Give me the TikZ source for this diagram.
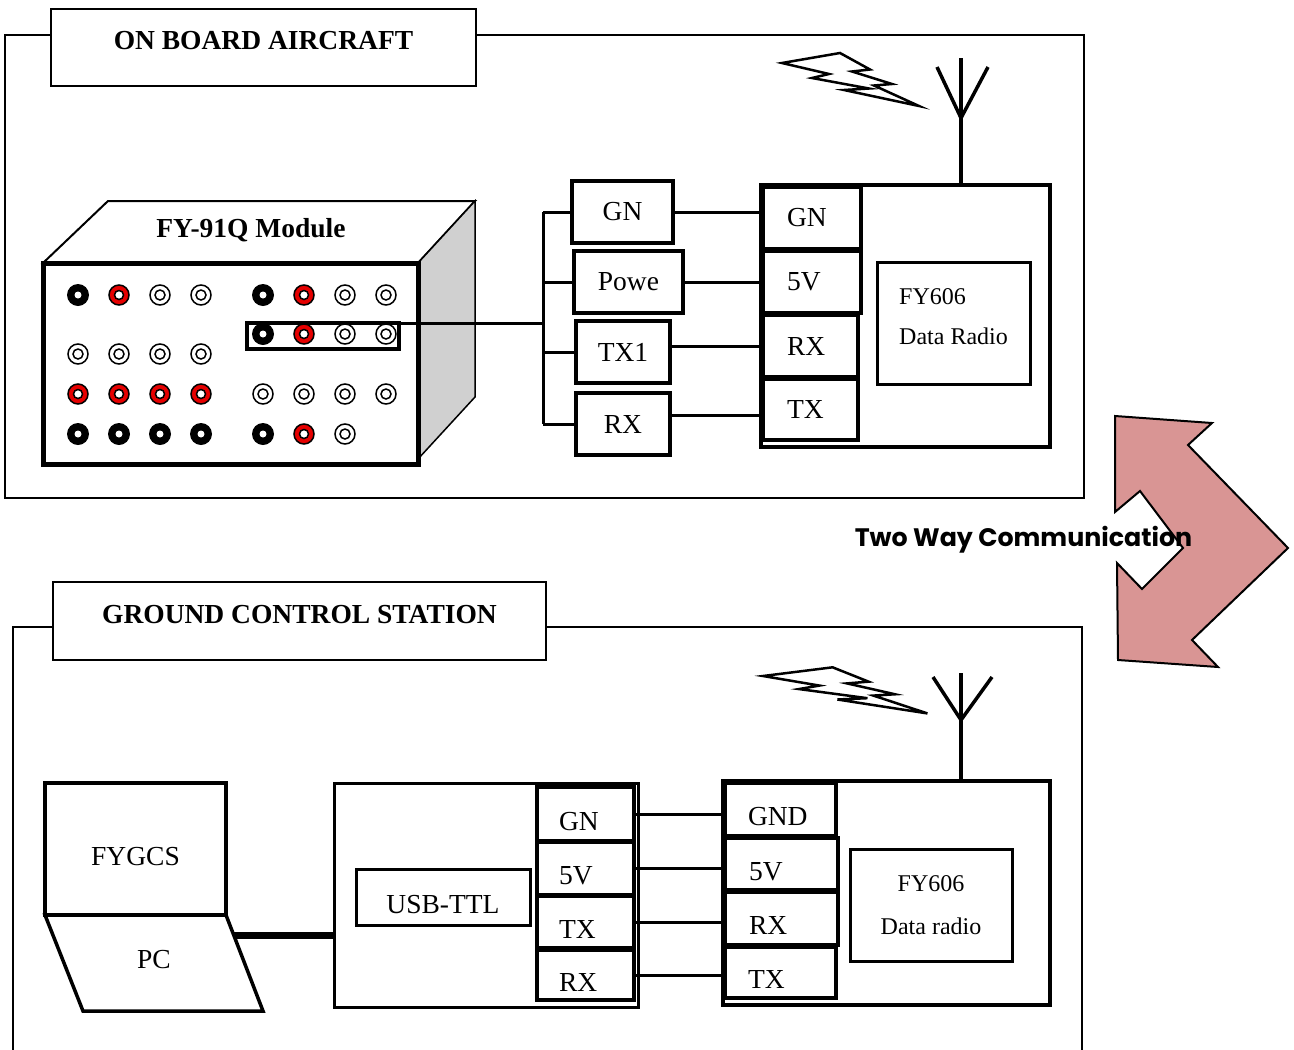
\documentclass[tikz,border=0pt]{standalone}
\usepackage{fontspec}
\setmainfont{Liberation Serif}
\newfontfamily\heavyfont{Poppins}
\usepackage{tikz}

\definecolor{jackred}{HTML}{E60000}
\definecolor{arrowpink}{HTML}{D99594}
\definecolor{sidegray}{HTML}{D0D0D0}

\tikzset{
  bolt/.pic={
    \draw[line width=2.5pt, line join=miter]
      (0,0) -- (58,-10) -- (88,6.5) -- (70,8.5) -- (110,21) -- (92,22.5) -- (137,43)
      -- (62,27) -- (87,25.5) -- (30,15) -- (47,11) -- cycle;
  }
}

\begin{document}
\begin{tikzpicture}[
    x=1pt, y=-1pt,
    every node/.style={font=\fontsize{27.5}{33}\selectfont, outer sep=0pt},
    boxsize/.style 2 args={minimum width=#1pt, minimum height=#2pt},
    frame/.style={draw, line width=2pt},
    titlebox/.style={draw, fill=white, line width=1.2pt, inner sep=0pt,
        font=\fontsize{27.5}{33}\selectfont\bfseries, text height=18pt, text depth=14pt},
    wirebox/.style={draw, line width=3.5pt, inner sep=0pt},
    pinbox/.style={draw, fill=white, line width=4pt, inner sep=0pt, align=left, text width=#1},
    pinbox/.default=50pt,
    lowtext/.style={text height=32pt, text depth=0pt},
    wire/.style={line width=3pt},
    antenna/.style={line width=3.5pt}
]
    \useasboundingbox (0,0) rectangle (1294,1050);

    % ---- on board aircraft ----
    \draw[frame] (5,35) rectangle (1084,498);
    \node[titlebox, boxsize={425}{77}] (aircraft) at (263.5,47.5) {ON BOARD AIRCRAFT};

    \draw[line width=2pt, fill=white] (43,263) -- (108,201) -- (475,201) -- (418,263) -- cycle;
    \draw[line width=1.5pt, fill=sidegray] (418,263) -- (475,201) -- (475,397) -- (418,459) -- cycle;
    \node[draw, fill=white, line width=5pt, boxsize={375}{201}] (fy91) at (230.5,363.5) {};
    \node[font=\fontsize{27.5}{33}\selectfont\bfseries] (fy91name) at (251,230) {FY-91Q Module};

    \foreach \x/\y in {78/295,263/295,263/334,78/434,119/434,160/434,201/434,263/434} {
        \fill (\x,\y) circle[radius=11pt];
        \fill[white] (\x,\y) circle[radius=3.5pt];
    }
    \foreach \x/\y in {119/295,304/295,304/334,78/394,119/394,160/394,201/394,304/434} {
        \draw[line width=1.5pt, fill=jackred] (\x,\y) circle[radius=10pt];
        \draw[line width=1.5pt, fill=white] (\x,\y) circle[radius=4.5pt];
    }
    \foreach \x/\y in {160/295,201/295,345/295,386/295,345/334,386/334,78/354,119/354,
                       160/354,201/354,263/394,304/394,345/394,386/394,345/434} {
        \draw[line width=1.5pt] (\x,\y) circle[radius=10pt] (\x,\y) circle[radius=5pt];
    }
    \node[draw, line width=4pt, boxsize={152}{26}] (sel) at (323,336) {};

    \coordinate (busT) at (543,212);
    \coordinate (busB) at (543,424);
    \draw[wire] (busT) -- (busB);
    \draw[wire] (sel.north east) -- (sel.north east -| busT);

    \node[wirebox, boxsize={101}{62}] (gn1) at (622.5,212) {GN};
    \node[wirebox, boxsize={109}{62}] (pw1) at (628.5,282) {Powe};
    \node[wirebox, boxsize={94}{62}] (tx1) at (623,352) {TX1};
    \node[wirebox, boxsize={94}{62}] (rx1) at (623,424) {RX};
    \foreach \n in {gn1,pw1,tx1,rx1}
        \draw[wire] (\n.west) -- (\n.west -| busT);

    \node[draw, line width=3.5pt, boxsize={289}{262}] (radio1) at (905.5,316) {};
    \node[pinbox, boxsize={98}{62}] (gn1p) at (812,218) {GN};
    \node[pinbox, boxsize={98}{62}] (v1p) at (812,282) {5V};
    \node[pinbox=47pt, boxsize={95}{62}] (rx1p) at (810.5,346) {RX};
    \node[pinbox=47pt, boxsize={95}{61}] (tx1p) at (810.5,409.5) {TX};
    \node[draw, line width=3pt, boxsize={153}{122}, align=left, text depth=12pt,
          font=\fontsize{24}{40}\selectfont] (fy606a) at (953.5,323) {FY606\\Data Radio};

    \draw[wire] (gn1.east) -- (gn1.east -| gn1p.west);
    \draw[wire] (pw1.east) -- (pw1.east -| v1p.west);
    \draw[wire] ([yshift=6pt]tx1.east) -- ([yshift=6pt]tx1.east -| rx1p.west);
    \draw[wire] ([yshift=9pt]rx1.east) -- ([yshift=9pt]rx1.east -| tx1p.west);

    \coordinate (ant1) at (961,118);
    \draw[antenna] (radio1.north -| ant1) -- (961,58);
    \draw[antenna] (937,67) -- (ant1) -- (988,67);
    \pic at (782,63) {bolt};

    % ---- two way link ----
    \draw[line width=2pt, fill=arrowpink, line join=miter]
        (1115,416) -- (1212,423) -- (1188,445) -- (1288,548) -- (1192,640) -- (1218,667)
        -- (1118,660) -- (1117,563) -- (1142,589) -- (1183,548) -- (1140,491) -- (1115,512) -- cycle;
    \node[font={\heavyfont\bfseries\fontsize{25.3}{30}\selectfont}] (twoway) at (1023.5,540) {Two Way Communication};

    % ---- ground control station ----
    \draw[frame] (13,1050) |- (1082,627) -- (1082,1050);
    \node[titlebox, boxsize={493}{78}] (gcs) at (299.5,621) {GROUND CONTROL STATION};

    \node[draw, line width=3.5pt, boxsize={181}{132}, lowtext] (screen) at (135.5,849) {FYGCS};
    \draw[line width=3.5pt, line join=miter] (screen.south west) -- (screen.south east)
        -- ++(37,96) -- ++(-180,0) -- cycle;
    \node (pc) at (154,960) {PC};

    \node[draw, line width=3pt, boxsize={304}{224}] (usb) at (486,895) {};
    \node[draw, line width=3pt, boxsize={174}{56}, lowtext] (usbttl) at (443,897) {USB-TTL};
    \node[pinbox=53pt, lowtext, boxsize={97}{54}] (gn3p) at (585.5,814) {GN};
    \node[pinbox=53pt, lowtext, boxsize={97}{53}] (v3p) at (585.5,868.5) {5V};
    \node[pinbox=53pt, lowtext, boxsize={97}{52}] (tx3p) at (585.5,922) {TX};
    \node[pinbox=53pt, lowtext, boxsize={97}{50}] (rx3p) at (585.5,975) {RX};

    \coordinate (pcport) at (234,935);
    \draw[line width=7pt] (pcport) -- (pcport -| usb.west);

    \node[draw, line width=3.5pt, boxsize={327}{224}] (radio2) at (886.5,893) {};
    \node[pinbox=65pt, lowtext, boxsize={111}{53}] (gnd2p) at (780.5,809.5) {GND};
    \node[pinbox=65pt, lowtext, boxsize={113}{52}] (v2p) at (781.5,864) {5V};
    \node[pinbox=65pt, lowtext, boxsize={113}{53}] (rx2p) at (781.5,918.5) {RX};
    \node[pinbox=65pt, lowtext, boxsize={111}{51}] (tx2p) at (780.5,972.5) {TX};
    \node[draw, line width=3pt, boxsize={162}{112}, align=center,
          font=\fontsize{24}{43}\selectfont] (fy606b) at (931,905) {FY606\\Data radio};

    \foreach \a/\b in {gn3p/gnd2p, v3p/v2p, tx3p/rx2p, rx3p/tx2p}
        \draw[wire] (\a.east) -- (\a.east -| \b.west);

    \coordinate (ant2) at (961,720);
    \draw[antenna] (radio2.north -| ant2) -- (961,673);
    \draw[antenna] (933,677) -- (ant2) -- (992,677);
    \pic[xscale=1.2, yscale=0.87] at (763,676) {bolt};
\end{tikzpicture}
\end{document}
